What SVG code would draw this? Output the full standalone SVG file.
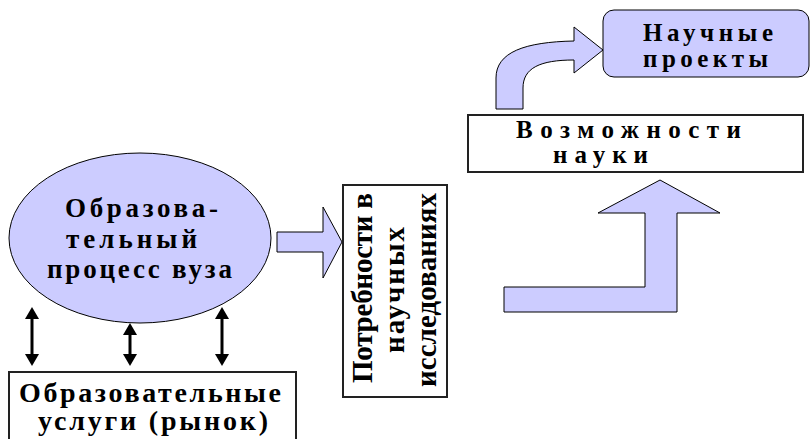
<svg xmlns="http://www.w3.org/2000/svg" width="811" height="439" viewBox="0 0 811 439">
<style>
.lav{fill:#CCCCFF;stroke:#000;stroke-width:1}
.box{fill:#fff;stroke:#222;stroke-width:2}
.t{font-family:"Liberation Serif","Times New Roman",serif;font-weight:bold;fill:#000}
.dbl{stroke:#000;stroke-width:3;fill:none;marker-start:url(#ah);marker-end:url(#ah)}
</style>
<defs>
<marker id="ah" markerUnits="userSpaceOnUse" viewBox="0 0 12 14" refX="2" refY="7" markerWidth="12" markerHeight="14" orient="auto-start-reverse">
<path d="M0,0 L12,7 L0,14 z" fill="#000"/>
</marker>
</defs>
<rect width="811" height="439" fill="#fff"/>

<g id="connectors">
<line class="dbl" x1="32" y1="317" x2="32" y2="356"/>
<line class="dbl" x1="130" y1="333" x2="130" y2="356"/>
<line class="dbl" x1="222" y1="317" x2="222" y2="356"/>
<path class="lav" d="M277,232 L323,232 L323,207 L342,242 L323,278 L323,252 L277,252 Z"/>
<path class="lav" d="M504,287 L645,287 L645,213 L598,213 L660,180 L720,213 L677,213 L677,312 L504,312 Z"/>
<path class="lav" d="M496,109 L496,78 C496,52 525,42 574,41 L574,27 L603,50 L574,73 L574,60 C540,60 523,68 523,88 L523,109 Z"/>
</g>

<g id="process">
<ellipse class="lav" cx="140" cy="238" rx="131" ry="85"/>
<text class="t" font-size="27" x="65" y="217" textLength="153" lengthAdjust="spacing">Образова-</text>
<text class="t" font-size="27" x="66" y="248" textLength="131" lengthAdjust="spacing">тельный</text>
<text class="t" font-size="27" x="47" y="278" textLength="185" lengthAdjust="spacing">процесс вуза</text>
</g>

<g id="services">
<rect class="box" x="9" y="372" width="287" height="80"/>
<text class="t" font-size="28" x="19" y="402" textLength="262" lengthAdjust="spacing">Образовательные</text>
<text class="t" font-size="28" x="38" y="430" textLength="230" lengthAdjust="spacing">услуги (рынок)</text>
</g>

<g id="needs">
<rect class="box" x="343" y="185" width="104" height="212"/>
<text class="t" font-size="29" text-anchor="middle" transform="translate(372,288) rotate(-90)" textLength="190" lengthAdjust="spacing">Потребности в</text>
<text class="t" font-size="29" text-anchor="middle" transform="translate(404,290) rotate(-90)" textLength="126" lengthAdjust="spacing">научных</text>
<text class="t" font-size="29" text-anchor="middle" transform="translate(436,290) rotate(-90)" textLength="194" lengthAdjust="spacing">исследованиях</text>
</g>

<g id="science">
<rect class="box" x="468" y="115" width="335" height="57"/>
<text class="t" font-size="25" x="516" y="138" textLength="225" lengthAdjust="spacing">Возможности</text>
<text class="t" font-size="25" x="553" y="163" textLength="95" lengthAdjust="spacing">науки</text>
</g>

<g id="projects">
<rect class="lav" x="603" y="10" width="206" height="67" rx="11"/>
<text class="t" font-size="25" x="643" y="41" textLength="130" lengthAdjust="spacing">Научные</text>
<text class="t" font-size="25" x="643" y="67" textLength="125" lengthAdjust="spacing">проекты</text>
</g>
</svg>
